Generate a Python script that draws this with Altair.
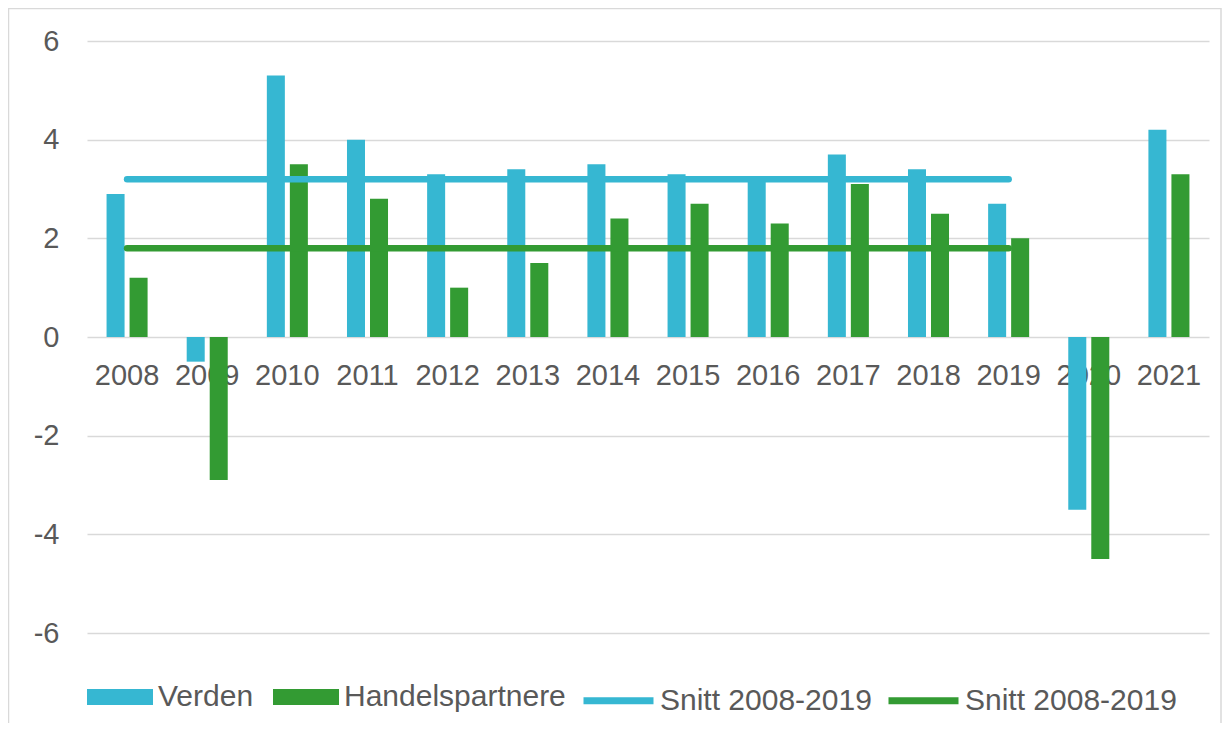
import altair as alt
import pandas as pd

# ---- data ----
years = ["2008", "2009", "2010", "2011", "2012", "2013", "2014",
         "2015", "2016", "2017", "2018", "2019", "2020", "2021"]
verden = [2.9, -0.5, 5.3, 4.0, 3.3, 3.4, 3.5, 3.3, 3.2, 3.7, 3.4, 2.7, -3.5, 4.2]
handelspartnere = [1.2, -2.9, 3.5, 2.8, 1.0, 1.5, 2.4, 2.7, 2.3, 3.1, 2.5, 2.0, -4.5, 3.3]
snitt_years = ["2008", "2009", "2010", "2011", "2012", "2013",
               "2014", "2015", "2016", "2017", "2018", "2019"]
snitt_verden = [3.2] * len(snitt_years)
snitt_handel = [1.8] * len(snitt_years)
y_ticks = [-6, -4, -2, 0, 2, 4, 6]

bar_series = ["Verden", "Handelspartnere"]
line_series = ["snitt_verden", "snitt_handel"]
line_label = "Snitt 2008-2019"

BLUE = "#36b7d2"
GREEN = "#339b33"
TEXT = "#595959"
GRID = "#d9d9d9"
FONT = "Liberation Sans"

W, H = 1122, 592

df_bars = pd.DataFrame(
    [{"year": y, "series": "Verden", "value": v} for y, v in zip(years, verden)]
    + [{"year": y, "series": "Handelspartnere", "value": v} for y, v in zip(years, handelspartnere)]
)
df_lines = pd.DataFrame(
    [{"year": y, "series": "snitt_verden", "value": v} for y, v in zip(snitt_years, snitt_verden)]
    + [{"year": y, "series": "snitt_handel", "value": v} for y, v in zip(snitt_years, snitt_handel)]
)
df_years = pd.DataFrame({"year": years})

x_scale = alt.Scale(type="band", domain=years, paddingInner=0.488, paddingOuter=0.244)
y_scale = alt.Scale(domain=[-6, 6], nice=False, zero=False)

frame = alt.Chart(pd.DataFrame({"a": [0]})).mark_rect(
    fill="white", fillOpacity=0, stroke=GRID, strokeWidth=1.5
).encode(
    x=alt.value(-78.5), x2=alt.value(W + 12), y=alt.value(-32.5), y2=alt.value(H + 300)
)

year_text = alt.Chart(df_years).mark_text(
    font=FONT, fontSize=29, color=TEXT, baseline="middle", dy=39
).encode(
    x=alt.X("year:N", scale=x_scale, axis=None),
    y=alt.datum(0),
    text="year:N",
)

bars = alt.Chart(df_bars).mark_bar().encode(
    x=alt.X("year:N", scale=x_scale, axis=None),
    xOffset=alt.XOffset("series:N", sort=bar_series,
                        scale=alt.Scale(domain=bar_series, paddingInner=0.217, paddingOuter=0)),
    y=alt.Y("value:Q", scale=y_scale,
            axis=alt.Axis(values=y_ticks, grid=True, gridColor=GRID, gridWidth=1.5,
                          domain=False, ticks=False, labelFont=FONT, labelFontSize=29,
                          labelColor=TEXT, labelPadding=28, title=None,
                          labelExpr="'' + datum.value")),
    color=alt.Color("series:N",
                    scale=alt.Scale(domain=bar_series, range=[BLUE, GREEN]),
                    legend=alt.Legend(title=None, orient="none", legendX=0, legendY=623,
                                      direction="horizontal",
                                      symbolType="M-1,-0.242H1V0.242H-1Z",
                                      symbolSize=4356, symbolStrokeWidth=0, symbolOpacity=1,
                                      labelFont=FONT, labelFontSize=30, labelColor=TEXT,
                                      labelLimit=500, labelOffset=5, columnPadding=19)),
)

lines = alt.Chart(df_lines).mark_line(strokeWidth=6.5, strokeCap="round").encode(
    x=alt.X("year:N", scale=x_scale, axis=None),
    y=alt.Y("value:Q", scale=y_scale),
    stroke=alt.Stroke("series:N",
                      scale=alt.Scale(domain=line_series, range=[BLUE, GREEN]),
                      legend=alt.Legend(title=None, orient="none", legendX=493, legendY=621,
                                        direction="horizontal",
                                        symbolType="stroke", symbolSize=4900,
                                        symbolStrokeWidth=7,
                                        labelExpr="'" + line_label + "'",
                                        labelFont=FONT, labelFontSize=30, labelColor=TEXT,
                                        labelLimit=500, labelOffset=3, columnPadding=2)),
    detail="series:N",
)

chart = alt.layer(frame, year_text, bars, lines).resolve_scale(
    color="independent", stroke="independent"
).properties(
    width=W, height=H,
    padding={"left": 79, "top": 33, "right": 13, "bottom": 90},
    autosize=alt.AutoSizeParams(type="none"),
).configure_view(stroke=None)

chart.save("out.html", embed_options={"renderer": "svg", "actions": False})
